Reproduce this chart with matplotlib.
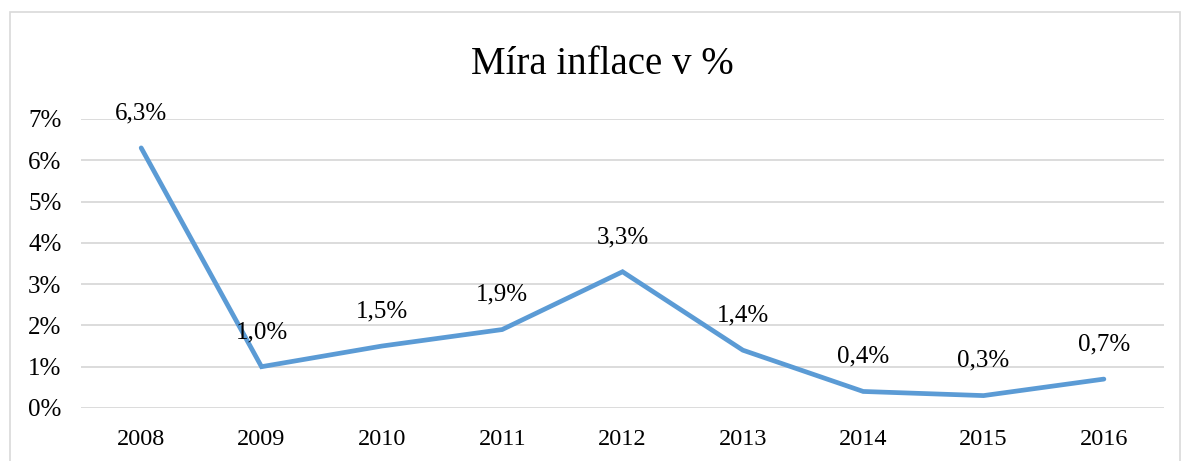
import matplotlib.pyplot as plt
from matplotlib.patches import Rectangle

# data
years = ['2008', '2009', '2010', '2011', '2012', '2013', '2014', '2015', '2016']
inflace = [6.3, 1.0, 1.5, 1.9, 3.3, 1.4, 0.4, 0.3, 0.7]
y_ticks = [0, 1, 2, 3, 4, 5, 6, 7]

plt.rcParams['font.family'] = ['Liberation Serif', 'DejaVu Serif']

fig = plt.figure(figsize=(11.86, 4.61), dpi=100)
ax = fig.add_axes([0.0683, 0.1150, 0.9132, 0.6269])

# ramecek grafu
W, H = 1186, 461
fig.patches.append(Rectangle((10 / W, -0.05), 1170 / W, 1 - 12 / H + 0.05,
                             transform=fig.transFigure, fill=False,
                             edgecolor='#D9D9D9', linewidth=1.2))

x = list(range(len(years)))
ax.plot(x, inflace, color='#5B9BD5', linewidth=3.4, solid_capstyle='round',
        solid_joinstyle='miter', zorder=3)

for xi, v in zip(x, inflace):
    ax.annotate(f'{v:.1f}%'.replace('.', ','), (xi, v), xytext=(0, 25),
                textcoords='offset points', ha='center', va='center',
                fontsize=18, color='black', zorder=4)

ax.set_xlim(-0.5, len(years) - 0.5)
ax.set_ylim(0, 7)
ax.set_xticks(x)
ax.set_xticklabels(years, fontsize=17.5)
ax.set_yticks(y_ticks)
ax.set_yticklabels([f'{t}%' for t in y_ticks], fontsize=18)
ax.tick_params(length=0)
ax.tick_params(axis='y', pad=14)
ax.tick_params(axis='x', pad=15)
ax.grid(axis='y', color='#D9D9D9', linewidth=1.3)
ax.set_axisbelow(True)
for s in ax.spines.values():
    s.set_visible(False)

fig.text(0.508, 1 - 65 / H, 'Míra inflace v %', ha='center', va='center', fontsize=28)

fig.savefig('out.png', dpi=100)
